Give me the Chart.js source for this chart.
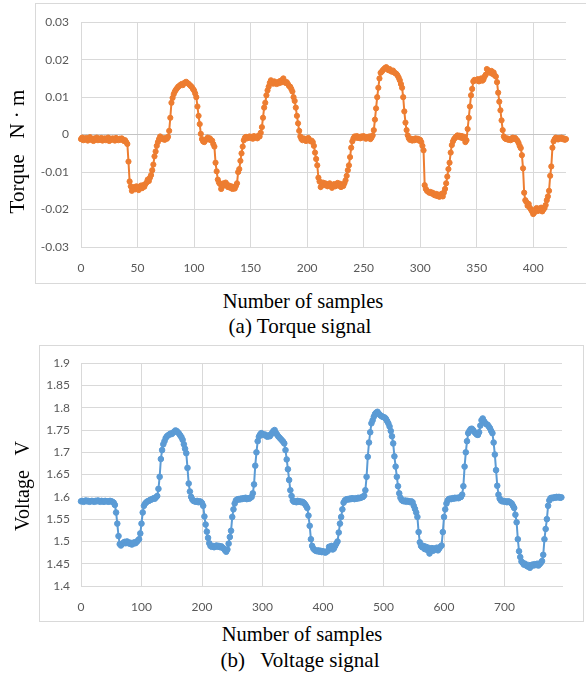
<!DOCTYPE html>
<html><head><meta charset="utf-8">
<script src="https://cdn.jsdelivr.net/npm/chart.js@4.4.1/dist/chart.umd.min.js"></script>
<style>
body{margin:0;background:#fff;width:586px;height:678px;overflow:hidden;position:relative;font-family:"Liberation Serif","Times New Roman",serif;color:#000}
.box{position:absolute;border:1px solid #d9d9d9;box-sizing:border-box}
canvas{position:absolute;left:0}
.t{position:absolute;width:300px;text-align:center;white-space:pre;font-size:21px;line-height:21px}
.r{width:200px;transform:rotate(-90deg)}
</style></head><body>
<div class="box" style="left:35px;top:3px;width:560px;height:281px"></div>
<div class="box" style="left:39px;top:345px;width:545px;height:277px"></div>
<canvas id="chT" width="586" height="280" style="top:3px"></canvas>
<canvas id="chV" width="586" height="276" style="top:345px"></canvas>
<div class="t r" style="left:-83px;top:141px">Torque   N · m</div>
<div class="t" style="left:153px;top:291px;font-size:20.5px;line-height:20.5px">Number of samples</div>
<div class="t" style="left:150px;top:316px">(a) Torque signal</div>
<div class="t r" style="left:-78px;top:476px;font-size:20px;line-height:20px">Voltage   V</div>
<div class="t" style="left:152px;top:624px;font-size:20.5px;line-height:20.5px">Number of samples</div>
<div class="t" style="left:150px;top:650px">(b)   Voltage signal</div>
<script>
const $=id=>document.getElementById(id);
const ORANGE="#ED7D31",BLUE="#5B9BD5",GRID="#d9d9d9",TXT="#595959";

// torque, one value per sample (N·m), samples 0..429
const torque=[
-0.0012,-0.0008,-0.0015,-0.0010,-0.0013,-0.0009,-0.0016,-0.0011,-0.0007,-0.0014,
-0.0012,-0.0017,-0.0010,-0.0013,-0.0008,-0.0015,-0.0011,-0.0014,-0.0009,-0.0016,
-0.0012,-0.0010,-0.0015,-0.0013,-0.0008,-0.0017,-0.0011,-0.0014,-0.0010,-0.0013,
-0.0016,-0.0009,-0.0012,-0.0015,-0.0011,-0.0014,-0.0010,-0.0013,-0.0017,-0.0015,
-0.0020,-0.0025,-0.0072,-0.0125,-0.0138,-0.0150,-0.0145,-0.0140,-0.0146,-0.0138,
-0.0142,-0.0148,-0.0140,-0.0136,-0.0143,-0.0135,-0.0139,-0.0132,-0.0128,-0.0120,
-0.0124,-0.0115,-0.0108,-0.0095,-0.0080,-0.0058,-0.0045,-0.0030,-0.0020,-0.0012,
-0.0005,-0.0008,-0.0012,-0.0010,-0.0014,-0.0009,-0.0011,-0.0006,0.0010,0.0045,
0.0085,0.0098,0.0108,0.0115,0.0120,0.0124,0.0128,0.0130,0.0133,0.0135,
0.0132,0.0137,0.0139,0.0141,0.0138,0.0136,0.0133,0.0130,0.0127,0.0122,
0.0118,0.0110,0.0100,0.0075,0.0050,0.0028,0.0002,-0.0012,-0.0018,-0.0020,
-0.0015,-0.0012,-0.0008,-0.0013,-0.0010,-0.0015,-0.0016,-0.0025,-0.0032,-0.0075,
-0.0098,-0.0120,-0.0128,-0.0132,-0.0145,-0.0138,-0.0130,-0.0135,-0.0128,-0.0133,
-0.0140,-0.0136,-0.0142,-0.0138,-0.0145,-0.0140,-0.0144,-0.0137,-0.0130,-0.0100,
-0.0092,-0.0070,-0.0050,-0.0032,-0.0015,-0.0008,-0.0006,-0.0010,-0.0007,-0.0005,
-0.0009,-0.0006,-0.0011,-0.0004,-0.0008,-0.0006,-0.0010,-0.0003,-0.0005,0.0005,
0.0020,0.0045,0.0072,0.0085,0.0105,0.0118,0.0128,0.0138,0.0145,0.0140,
0.0136,0.0142,0.0138,0.0135,0.0140,0.0137,0.0143,0.0139,0.0146,0.0150,
0.0142,0.0138,0.0140,0.0135,0.0130,0.0128,0.0122,0.0115,0.0100,0.0090,
0.0072,0.0050,0.0030,0.0010,-0.0005,-0.0012,-0.0015,-0.0010,-0.0013,-0.0017,
-0.0012,-0.0009,-0.0014,-0.0018,-0.0016,-0.0020,-0.0030,-0.0048,-0.0065,-0.0082,
-0.0115,-0.0125,-0.0140,-0.0133,-0.0128,-0.0135,-0.0130,-0.0132,-0.0138,-0.0134,
-0.0130,-0.0136,-0.0142,-0.0135,-0.0132,-0.0138,-0.0133,-0.0129,-0.0136,-0.0131,
-0.0140,-0.0134,-0.0137,-0.0130,-0.0122,-0.0110,-0.0095,-0.0082,-0.0060,-0.0035,
-0.0018,-0.0010,-0.0005,-0.0008,-0.0004,-0.0009,-0.0006,-0.0010,-0.0005,-0.0008,
-0.0004,-0.0007,-0.0011,-0.0006,-0.0009,-0.0005,-0.0012,-0.0008,-0.0002,0.0012,
0.0040,0.0070,0.0100,0.0125,0.0150,0.0165,0.0168,0.0172,0.0175,0.0178,
0.0180,0.0176,0.0172,0.0175,0.0170,0.0168,0.0171,0.0166,0.0164,0.0162,
0.0158,0.0152,0.0145,0.0135,0.0125,0.0100,0.0062,0.0032,0.0012,-0.0002,
-0.0010,-0.0014,-0.0011,-0.0016,-0.0012,-0.0015,-0.0010,-0.0013,-0.0011,-0.0016,
-0.0014,-0.0020,-0.0030,-0.0042,-0.0135,-0.0145,-0.0150,-0.0152,-0.0155,-0.0153,
-0.0157,-0.0155,-0.0160,-0.0162,-0.0158,-0.0164,-0.0160,-0.0166,-0.0162,-0.0158,
-0.0165,-0.0155,-0.0145,-0.0130,-0.0112,-0.0092,-0.0075,-0.0048,-0.0028,-0.0018,
-0.0012,-0.0008,-0.0005,-0.0002,-0.0006,-0.0003,-0.0008,-0.0004,-0.0010,-0.0006,
-0.0020,-0.0015,0.0015,0.0045,0.0075,0.0105,0.0122,0.0142,0.0146,0.0145,
0.0145,0.0148,0.0142,0.0146,0.0150,0.0144,0.0147,0.0155,0.0160,0.0175,
0.0172,0.0168,0.0165,0.0170,0.0162,0.0166,0.0158,0.0155,0.0140,0.0112,
0.0088,0.0065,0.0038,0.0012,-0.0005,-0.0010,-0.0012,-0.0010,-0.0014,-0.0012,
-0.0015,-0.0010,-0.0008,-0.0012,-0.0009,-0.0013,-0.0016,-0.0022,-0.0030,-0.0036,
-0.0055,-0.0090,-0.0155,-0.0175,-0.0180,-0.0190,-0.0185,-0.0195,-0.0200,-0.0205,
-0.0212,-0.0208,-0.0200,-0.0196,-0.0204,-0.0198,-0.0202,-0.0195,-0.0205,-0.0200,
-0.0196,-0.0188,-0.0175,-0.0165,-0.0150,-0.0110,-0.0085,-0.0035,-0.0018,-0.0012,
-0.0008,-0.0010,-0.0013,-0.0009,-0.0011,-0.0008,-0.0012,-0.0010,-0.0014,-0.0012];
const torqueX=[0,50,100,150,200,250,300,350,400];
const torqueY=[-0.03,-0.02,-0.01,0,0.01,0.02,0.03];

// voltage (V), read every 2nd sample, samples 0..794
const voltStep=2;
const voltage=[
1.590,1.591,1.589,1.590,1.592,1.590,1.591,1.589,1.590,1.591,
1.590,1.589,1.591,1.590,1.592,1.590,1.589,1.591,1.590,1.589,
1.591,1.590,1.590,1.589,1.591,1.590,1.589,1.587,1.582,1.565,
1.540,1.512,1.494,1.491,1.494,1.497,1.499,1.496,1.500,1.498,
1.495,1.497,1.493,1.495,1.498,1.496,1.499,1.502,1.505,1.518,
1.540,1.565,1.580,1.585,1.588,1.590,1.591,1.593,1.594,1.595,
1.597,1.596,1.599,1.602,1.618,1.645,1.685,1.705,1.718,1.725,
1.732,1.736,1.738,1.740,1.742,1.741,1.744,1.746,1.749,1.748,
1.745,1.742,1.738,1.734,1.728,1.718,1.708,1.698,1.665,1.630,
1.612,1.600,1.594,1.591,1.590,1.589,1.591,1.588,1.590,1.589,
1.586,1.580,1.556,1.538,1.522,1.508,1.496,1.490,1.488,1.490,
1.487,1.489,1.491,1.488,1.490,1.487,1.489,1.486,1.484,1.480,
1.477,1.482,1.495,1.510,1.524,1.555,1.572,1.585,1.592,1.594,
1.595,1.594,1.596,1.595,1.597,1.596,1.598,1.595,1.597,1.596,
1.598,1.600,1.608,1.628,1.670,1.700,1.725,1.735,1.740,1.743,
1.741,1.739,1.740,1.737,1.735,1.738,1.736,1.740,1.744,1.748,
1.750,1.744,1.740,1.736,1.733,1.730,1.727,1.724,1.720,1.705,
1.684,1.662,1.638,1.615,1.602,1.592,1.589,1.590,1.588,1.591,
1.589,1.590,1.588,1.589,1.587,1.584,1.580,1.575,1.558,1.535,
1.505,1.490,1.484,1.481,1.479,1.478,1.480,1.477,1.479,1.476,
1.478,1.476,1.475,1.477,1.479,1.488,1.486,1.490,1.482,1.484,
1.490,1.495,1.500,1.520,1.540,1.555,1.572,1.587,1.592,1.594,
1.595,1.594,1.596,1.595,1.597,1.596,1.595,1.597,1.596,1.598,
1.597,1.598,1.599,1.600,1.603,1.615,1.645,1.690,1.722,1.745,
1.765,1.772,1.780,1.786,1.789,1.791,1.787,1.784,1.782,1.780,
1.779,1.778,1.775,1.770,1.765,1.758,1.748,1.736,1.720,1.691,
1.668,1.645,1.624,1.608,1.598,1.593,1.591,1.590,1.592,1.589,
1.591,1.590,1.588,1.590,1.588,1.580,1.573,1.565,1.555,1.521,
1.498,1.490,1.487,1.490,1.483,1.488,1.481,1.486,1.473,1.480,
1.485,1.479,1.484,1.482,1.486,1.480,1.484,1.488,1.491,1.521,
1.555,1.572,1.585,1.592,1.595,1.596,1.595,1.597,1.596,1.598,
1.597,1.598,1.597,1.599,1.600,1.605,1.624,1.668,1.700,1.725,
1.743,1.748,1.752,1.753,1.750,1.746,1.743,1.740,1.739,1.745,
1.760,1.772,1.776,1.770,1.766,1.763,1.762,1.758,1.754,1.748,
1.743,1.722,1.695,1.660,1.625,1.605,1.596,1.592,1.590,1.591,
1.589,1.590,1.588,1.590,1.589,1.587,1.585,1.580,1.575,1.560,
1.543,1.505,1.478,1.465,1.455,1.452,1.448,1.450,1.446,1.444,
1.447,1.441,1.445,1.448,1.446,1.449,1.447,1.450,1.446,1.449,
1.452,1.456,1.470,1.505,1.528,1.550,1.580,1.592,1.597,1.598,
1.597,1.599,1.598,1.600,1.599,1.600,1.598,1.599];
const voltX=[0,100,200,300,400,500,600,700];
const voltY=[1.4,1.45,1.5,1.55,1.6,1.65,1.7,1.75,1.8,1.85,1.9];

const tickFont={family:"Lato",size:12};
function grafico(id,pts,cor,xt,yt,xmax,pad,xh,ypad,zero,raio){
  return new Chart($(id),{type:"line",
    data:{datasets:[{data:pts,borderColor:cor,backgroundColor:cor,borderWidth:2,
      pointRadius:raio,pointBorderWidth:1,pointBorderColor:cor,pointBackgroundColor:cor,tension:0,clip:false}]},
    options:{responsive:false,animation:false,events:[],
      layout:{padding:pad},
      plugins:{legend:{display:false},tooltip:{enabled:false}},
      scales:{
        x:{type:"linear",min:0,max:xmax,
          afterBuildTicks:s=>{s.ticks=xt.map(v=>({value:v}))},
          afterFit:s=>{s.height=xh},
          grid:{color:GRID,drawTicks:false},border:{color:GRID},
          ticks:{padding:14,color:TXT,font:tickFont,maxRotation:0,autoSkip:false,callback:v=>String(v)}},
        y:{min:yt[0],max:yt[yt.length-1],
          afterBuildTicks:s=>{s.ticks=yt.map(v=>({value:v}))},
          afterFit:s=>{s.width=81},
          grid:{color:c=>(zero&&c.tick&&c.tick.value===0)?"#c4c4c4":GRID,drawTicks:false},border:{color:GRID},
          ticks:{padding:ypad,color:TXT,font:tickFont,autoSkip:false,callback:v=>String(v)}}
      }}});
}

grafico("chT",torque.map((v,i)=>({x:i,y:v})),ORANGE,torqueX,torqueY,429,{top:16,right:20,left:0,bottom:0},36,12,true,2.6);
grafico("chV",voltage.map((v,i)=>({x:i*voltStep,y:v})),BLUE,voltX,voltY,795,{top:16,right:24,left:0,bottom:0},35,11,false,2.8);
</script>
</body></html>
